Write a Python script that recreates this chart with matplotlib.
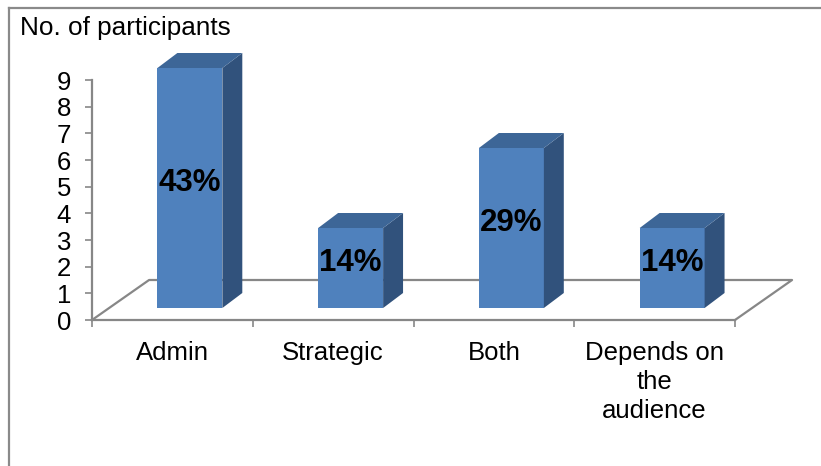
import matplotlib
matplotlib.use("Agg")
import matplotlib.pyplot as plt
from matplotlib.patches import Polygon, Rectangle
from matplotlib.lines import Line2D
import numpy as np

plt.rcParams['font.family'] = ['Liberation Sans', 'DejaVu Sans']

categories = ['Admin', 'Strategic', 'Both', 'Depends on\nthe\naudience']
participants = [9, 3, 6, 3]
y_ticks = list(range(0, 10))

total = sum(participants)
percent_labels = ['%d%%' % round(100.0 * v / total) for v in participants]

W, H = 821, 466
fig = plt.figure(figsize=(W / 100.0, H / 100.0), dpi=100)
fig.patch.set_facecolor('white')

# plot area: value axis on the front-left edge of the floor
ax = fig.add_axes([92.0 / W, (H - 320.0) / H, (735.0 - 92.0) / W, 240.0 / H])
ax.set_xlim(-0.5, len(categories) - 0.5)
ax.set_ylim(0, 9)
ax.patch.set_alpha(0)

grey = '#878787'
for s in ['top', 'right']:
    ax.spines[s].set_visible(False)
for s in ['left', 'bottom']:
    ax.spines[s].set_color(grey)
    ax.spines[s].set_linewidth(1.6)

ax.set_yticks(y_ticks)
ax.tick_params(axis='y', direction='out', length=5, width=1.2, color=grey,
               labelsize=18.5, pad=10)
ax.set_xticks(np.arange(-0.5, len(categories), 1.0))
ax.set_xticklabels([])
ax.tick_params(axis='x', which='major', direction='out', length=5, width=1.2, color=grey)
ax.set_xticks(np.arange(len(categories)), minor=True)
ax.set_xticklabels(categories, minor=True, fontsize=18.5, linespacing=1.27)
ax.tick_params(axis='x', which='minor', length=0, pad=15)

# depth of the floor and placement of the bars inside it
fdx, fdy = 0.355, 1.5      # floor depth (category units, value units)
bdx, bdy = 0.109, 0.45     # front face of bars offset from front edge
sdx, sdy = 0.124, 0.5625   # bar depth
bw = 0.404

x0, x1 = -0.5, len(categories) - 0.5
floor = [[x0, 0], [x0 + fdx, fdy], [x1 + fdx, fdy], [x1, 0]]
ax.add_line(Line2D([p[0] for p in floor], [p[1] for p in floor], color=grey,
                   lw=1.6, clip_on=False, zorder=1))

front_c = '#4F81BD'
top_c = '#3D6697'
side_c = '#31527C'
for i, v in enumerate(participants):
    cx = i + bdx
    l, r = cx - bw / 2, cx + bw / 2
    b, t = bdy, bdy + v
    ax.add_patch(Rectangle((l, b), bw, v, facecolor=front_c, edgecolor='none',
                           clip_on=False, zorder=3))
    ax.add_patch(Polygon([[r, b], [r + sdx, b + sdy], [r + sdx, t + sdy], [r, t]],
                         closed=True, facecolor=side_c, edgecolor='none',
                         clip_on=False, zorder=3))
    ax.add_patch(Polygon([[l, t], [r, t], [r + sdx, t + sdy], [l + sdx, t + sdy]],
                         closed=True, facecolor=top_c, edgecolor='none',
                         clip_on=False, zorder=3))
    ax.text(cx, b + v / 2.0 + 0.18, percent_labels[i], ha='center', va='center',
            fontsize=22.5, fontweight='bold', color='black', zorder=4)

fig.text(20.0 / W, 1 - 28.0 / H, 'No. of participants', fontsize=18.8,
         ha='left', va='center')

# chart frame
fig.add_artist(Line2D([9.0 / W, 1.0], [1 - 8.0 / H, 1 - 8.0 / H],
                      transform=fig.transFigure, color='#8A8A8A', lw=1.6))
fig.add_artist(Line2D([9.0 / W, 9.0 / W], [0, 1 - 8.0 / H],
                      transform=fig.transFigure, color='#8A8A8A', lw=1.6))

fig.savefig('out.png', dpi=100, facecolor='white')
